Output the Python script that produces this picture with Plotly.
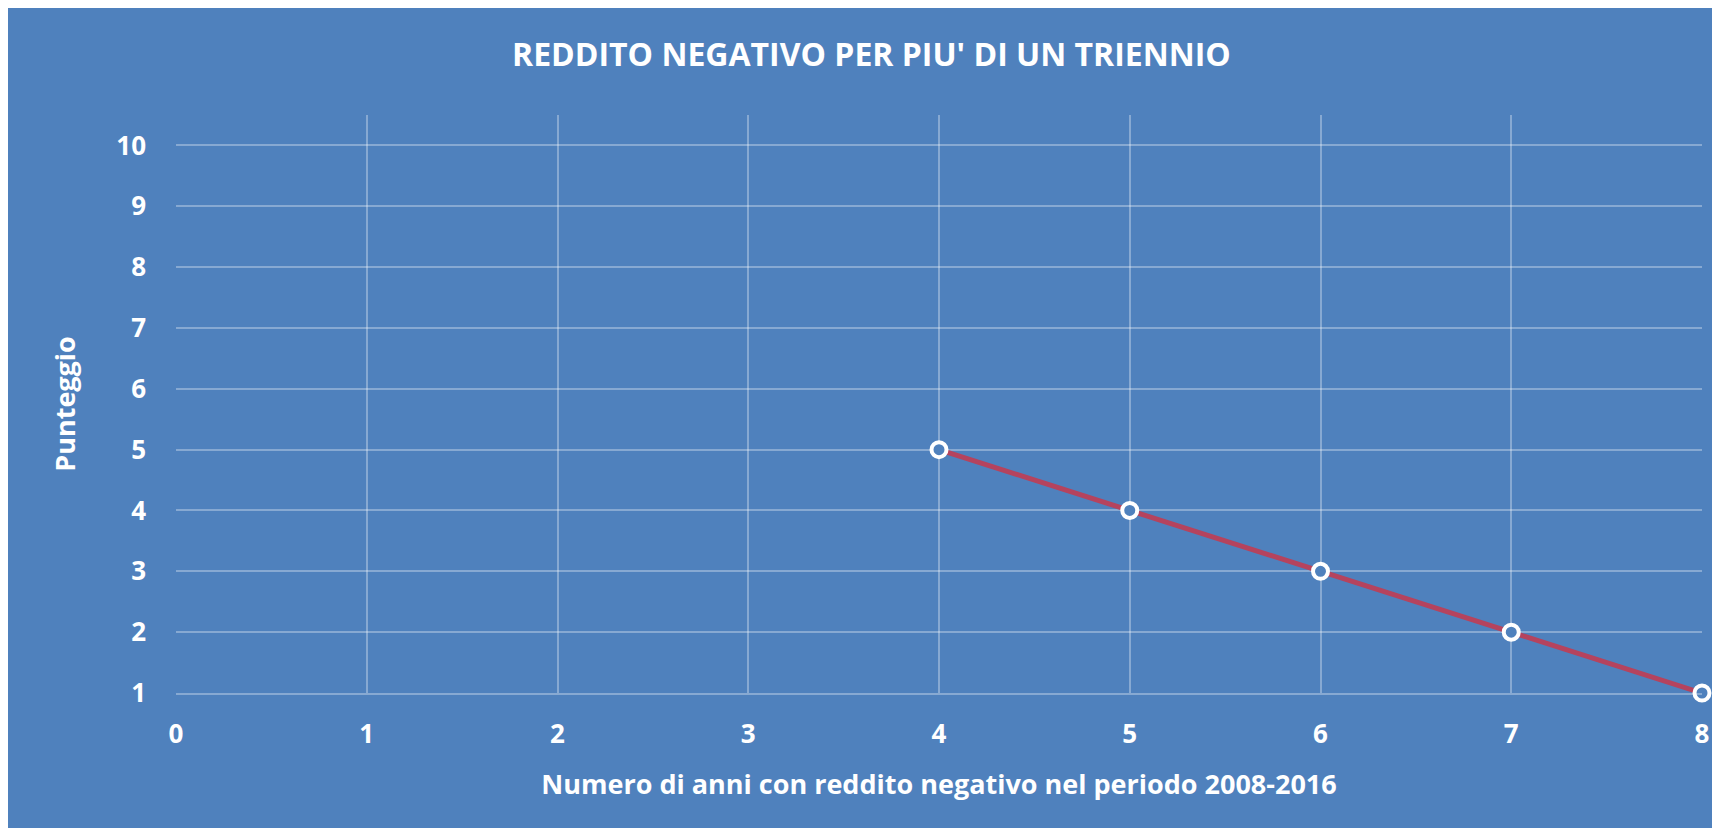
import plotly.graph_objects as go

# Data
anni = [4, 5, 6, 7, 8]
punteggio = [5, 4, 3, 2, 1]
x_ticks = [0, 1, 2, 3, 4, 5, 6, 7, 8]
y_ticks = [1, 2, 3, 4, 5, 6, 7, 8, 9, 10]

BG = "#4F81BD"
GRID = "rgba(255,255,255,0.32)"
FONT = "Open Sans"

fig = go.Figure()
fig.add_trace(go.Scatter(
    x=anni, y=punteggio, mode="lines+markers",
    line=dict(color="#B5435E", width=5),
    marker=dict(symbol="circle", size=15, color=BG, line=dict(color="white", width=4)),
    cliponaxis=False, showlegend=False, hoverinfo="x+y",
))

W, H = 1720, 828
fig.update_layout(
    width=W, height=H,
    margin=dict(l=168, r=26, t=107, b=143, autoexpand=False),
    paper_bgcolor=BG, plot_bgcolor=BG,
    font=dict(family=FONT, color="white", size=26, weight="bold"),
    title=dict(text="REDDITO NEGATIVO PER PIU' DI UN TRIENNIO",
               x=0.502, xanchor="center", y=1 - 47 / H, yanchor="middle",
               yref="container",
               font=dict(family=FONT, size=32, color="white", weight="bold")),
    xaxis=dict(range=[0, 8], tickvals=x_ticks, showgrid=True, gridcolor=GRID, gridwidth=1.5,
               zeroline=False, showline=True, linecolor=GRID, linewidth=1.5,
               ticks="", ticklabelstandoff=17,
               tickfont=dict(size=26, family=FONT, weight="bold"),
               title=dict(text="Numero di anni con reddito negativo nel periodo 2008-2016",
                          standoff=25, font=dict(size=27, family=FONT, weight="bold"))),
    yaxis=dict(range=[1, 10.5], tickvals=y_ticks, showgrid=True, gridcolor=GRID, gridwidth=1.5,
               zeroline=False, showline=False, ticks="", ticklabelstandoff=29,
               tickfont=dict(size=26, family=FONT, weight="bold"),
               title=dict(text="Punteggio", standoff=32,
                          font=dict(size=27, family=FONT, weight="bold"))),
)

fig.write_html("out.html")
